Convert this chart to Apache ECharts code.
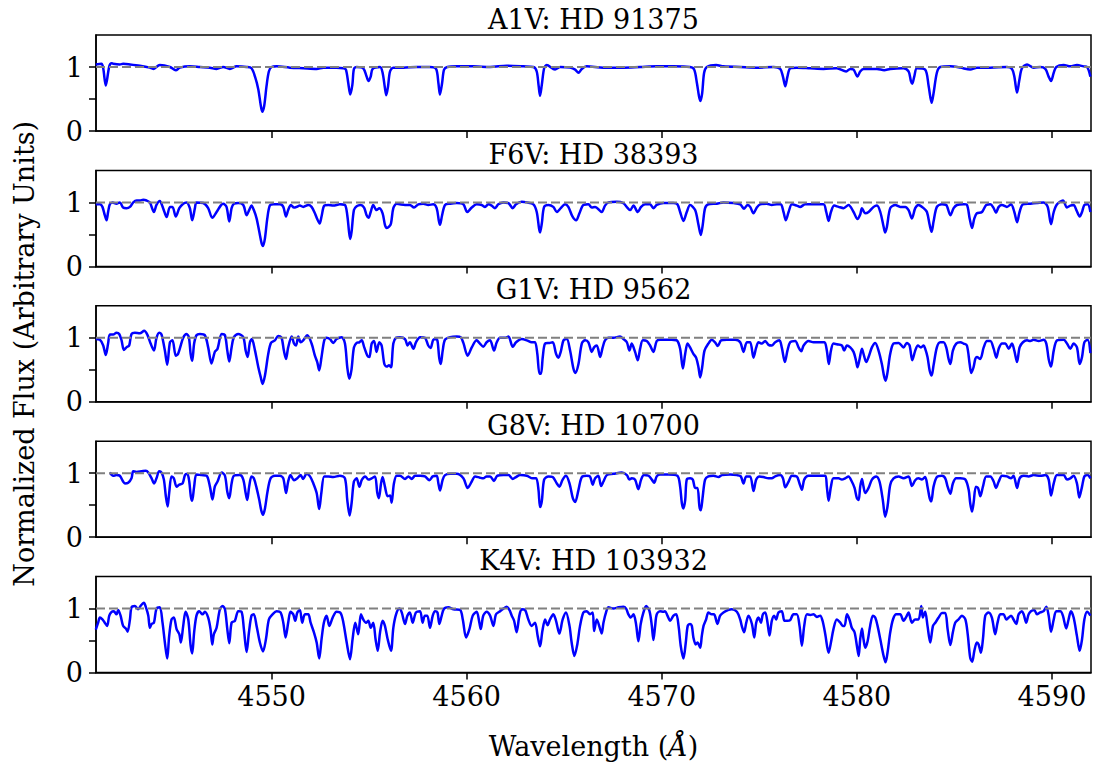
<!DOCTYPE html>
<html><head><meta charset="utf-8">
<script src="https://cdn.jsdelivr.net/npm/echarts@6/dist/echarts.min.js"></script>
<style>html,body{margin:0;padding:0;background:#fff}#c{width:1093px;height:767px}</style>
</head><body><div id="c"></div>
<script>
// ---- data ----
const titles = ['A1V: HD 91375', 'F6V: HD 38393', 'G1V: HD 9562', 'G8V: HD 10700', 'K4V: HD 103932'];
const xTicks = [4550, 4560, 4570, 4580, 4590];
const yTicks = [0, 0.5, 1];
const yTickLabels = [0, 1];
const xRange = [4541.0, 4592.0];
const continuumLevel = 1;

const a1v = [[4540.99,1.04],[4541.28,1.05],[4541.37,0.98],[4541.50,0.71],[4541.68,1.01],[4541.80,1.06],[4541.88,1.05],[4542.22,1.04],[4542.39,1.05],[4542.74,1.04],[4543.25,1.02],[4543.76,0.99],[4543.93,0.97],[4544.27,1.03],[4544.79,1.00],[4545.09,0.95],[4545.30,0.99],[4545.81,1.01],[4546.33,1.00],[4546.84,0.99],[4547.18,0.97],[4547.52,1.00],[4547.86,0.97],[4548.21,1.01],[4548.72,1.00],[4548.97,0.98],[4549.15,0.85],[4549.32,0.65],[4549.44,0.41],[4549.52,0.30],[4549.62,0.39],[4549.74,0.70],[4549.86,0.93],[4550.00,1.00],[4550.26,1.01],[4550.94,0.99],[4551.62,0.98],[4552.31,0.97],[4552.65,0.99],[4553.33,0.99],[4553.68,0.98],[4553.81,0.96],[4553.93,0.75],[4554.03,0.57],[4554.14,0.72],[4554.22,0.97],[4554.36,1.00],[4554.70,0.98],[4554.87,0.85],[4554.97,0.78],[4555.08,0.85],[4555.18,0.97],[4555.56,1.00],[4555.69,0.91],[4555.81,0.67],[4555.88,0.56],[4555.97,0.70],[4556.07,0.93],[4556.24,0.99],[4556.75,0.99],[4557.44,1.00],[4558.12,1.00],[4558.43,0.97],[4558.55,0.75],[4558.63,0.57],[4558.74,0.75],[4558.84,0.96],[4559.01,1.00],[4559.49,1.01],[4560.34,1.01],[4561.20,1.00],[4562.05,1.02],[4562.91,1.01],[4563.42,1.00],[4563.59,0.93],[4563.69,0.70],[4563.76,0.55],[4563.85,0.72],[4563.97,0.98],[4564.10,1.03],[4564.53,0.96],[4564.79,1.00],[4565.30,0.99],[4565.56,0.96],[4565.73,0.91],[4565.90,0.97],[4566.15,1.01],
[4567.01,0.99],[4568.03,0.99],[4568.89,1.00],[4569.74,1.01],[4570.60,1.01],[4571.45,1.00],[4571.66,0.96],[4571.80,0.75],[4571.91,0.54],[4571.98,0.47],[4572.07,0.59],[4572.17,0.91],[4572.31,1.00],[4572.79,1.03],[4573.16,1.01],[4574.02,1.00],[4574.87,0.99],[4575.73,1.00],[4576.07,0.97],[4576.21,0.85],[4576.33,0.70],[4576.44,0.85],[4576.58,0.98],[4576.92,0.99],[4577.61,0.98],[4578.29,0.97],[4578.97,0.98],[4579.45,0.93],[4579.66,0.97],[4579.83,0.96],[4580.03,0.85],[4580.17,0.93],[4580.34,0.97],[4581.03,0.97],[4581.40,0.95],[4581.71,0.97],[4582.39,0.98],[4582.65,0.93],[4582.77,0.78],[4582.84,0.74],[4582.94,0.85],[4583.08,0.98],[4583.50,0.96],[4583.68,0.70],[4583.83,0.44],[4583.93,0.59],[4584.10,0.91],[4584.27,1.00],[4584.79,1.01],[4585.30,0.99],[4585.81,0.96],[4586.15,0.99],[4586.84,0.99],[4587.69,1.00],[4587.95,0.97],[4588.07,0.85],[4588.21,0.60],[4588.33,0.80],[4588.46,0.98],[4588.72,1.04],[4589.06,0.99],[4589.40,1.00],[4589.66,0.97],[4589.83,0.85],[4589.95,0.78],[4590.09,0.91],[4590.22,1.00],[4590.60,1.03],[4590.94,1.01],[4591.28,1.03],[4591.62,1.01],[4591.80,1.00],[4591.97,0.85]];

const f6v = [[4540.99,0.97],[4541.20,0.97],[4541.33,0.93],[4541.45,0.80],[4541.54,0.72],[4541.62,0.85],[4541.71,0.97],[4541.85,1.00],[4542.05,0.98],[4542.22,1.00],[4542.39,0.92],[4542.56,0.91],[4542.74,0.93],[4542.91,1.00],[4543.08,1.03],[4543.25,1.03],[4543.42,1.04],[4543.59,1.03],[4543.76,1.00],[4543.97,0.85],[4544.10,0.96],[4544.27,1.02],[4544.44,0.91],[4544.62,0.77],[4544.79,0.93],[4544.92,0.93],[4545.09,0.78],[4545.27,0.91],[4545.47,0.98],[4545.64,1.00],[4545.81,0.91],[4545.93,0.72],[4546.07,0.91],[4546.15,1.00],[4546.50,0.99],[4546.75,0.91],[4546.96,0.76],[4547.18,0.85],[4547.39,0.95],[4547.52,0.98],[4547.69,0.93],[4547.83,0.70],[4547.95,0.91],[4548.07,0.98],[4548.29,0.99],[4548.55,0.96],[4548.72,0.80],[4548.85,0.88],[4548.97,0.95],[4549.09,0.88],[4549.23,0.75],[4549.37,0.54],[4549.49,0.36],[4549.56,0.32],[4549.66,0.44],[4549.78,0.75],[4549.91,0.95],[4550.09,0.97],[4550.43,0.97],[4550.60,0.93],[4550.74,0.78],[4550.85,0.88],[4550.99,0.96],[4551.15,0.92],[4551.28,0.93],[4551.45,0.95],[4551.62,0.93],[4551.88,0.96],[4552.05,0.93],[4552.22,0.83],[4552.34,0.74],[4552.46,0.67],[4552.56,0.78],[4552.70,0.95],[4552.91,0.96],[4553.16,0.95],[4553.50,0.97],[4553.76,0.96],[4553.88,0.80],[4553.97,0.54],[4554.03,0.43],[4554.10,0.54],[4554.22,0.88],[4554.36,0.94],[4554.56,0.96],[4554.74,0.92],[4554.87,0.80],[4554.97,0.76],[4555.08,0.85],[4555.21,0.96],[4555.38,0.88],[4555.52,0.91],[4555.69,0.83],[4555.81,0.65],[4555.90,0.60],[4556.02,0.62],[4556.12,0.67],[4556.24,0.91],[4556.41,0.98],[4556.58,0.97],[4556.84,0.96],[4557.09,0.96],[4557.30,0.92],[4557.52,0.97],[4557.78,0.98],[4558.03,0.96],[4558.29,0.97],[4558.46,0.91],[4558.58,0.70],[4558.63,0.65],[4558.74,0.80],[4558.89,0.96],[4559.15,0.98],[4559.49,0.99],[4559.83,0.97],[4560.03,0.85],[4560.26,0.92],[4560.51,0.97],[4560.77,0.96],[4560.94,0.93],[4561.11,0.97],[4561.28,0.95],[4561.45,0.91],[4561.62,0.97],[4561.88,1.00],[4562.14,0.99],[4562.36,0.91],[4562.53,0.97],[4562.82,1.01],[4563.08,1.00],[4563.42,0.97],[4563.59,0.85],[4563.71,0.59],[4563.76,0.53],[4563.85,0.67],[4563.97,0.93],[4564.19,0.96],[4564.44,0.93],[4564.62,0.85],[4564.82,0.91],[4565.04,0.97],[4565.21,0.93],[4565.42,0.78],[4565.61,0.72],[4565.78,0.83],[4565.98,0.96],[4566.24,0.97],[4566.41,0.92],[4566.58,0.93],
[4566.92,0.85],[4567.09,0.95],[4567.27,1.00],[4567.69,1.01],[4568.03,0.99],[4568.20,0.93],[4568.38,0.88],[4568.55,0.95],[4568.77,0.85],[4568.94,0.93],[4569.15,0.97],[4569.40,0.97],[4569.57,0.91],[4569.74,0.96],[4570.09,0.99],[4570.60,0.99],[4570.80,0.97],[4570.94,0.85],[4571.11,0.71],[4571.28,0.85],[4571.45,0.96],[4571.71,0.88],[4571.88,0.65],[4572.00,0.49],[4572.10,0.65],[4572.22,0.91],[4572.39,0.97],[4572.82,0.98],[4573.16,1.00],[4573.68,0.99],[4574.02,0.97],[4574.22,0.90],[4574.39,0.96],[4574.53,0.93],[4574.70,0.83],[4574.87,0.92],[4575.04,0.97],[4575.38,0.98],[4575.64,0.96],[4575.90,0.97],[4576.10,0.97],[4576.24,0.85],[4576.36,0.72],[4576.50,0.85],[4576.67,0.97],[4576.92,0.95],[4577.09,0.93],[4577.35,0.97],[4577.78,0.97],[4578.29,0.97],[4578.43,0.85],[4578.55,0.71],[4578.67,0.85],[4578.84,0.95],[4579.06,0.93],[4579.32,0.91],[4579.57,0.96],[4579.83,0.85],[4580.03,0.74],[4580.17,0.81],[4580.26,0.91],[4580.43,0.83],[4580.60,0.85],[4580.86,0.93],[4581.03,0.95],[4581.20,0.85],[4581.37,0.62],[4581.45,0.53],[4581.54,0.62],[4581.71,0.91],[4581.97,0.96],[4582.22,0.93],[4582.48,0.93],[4582.65,0.88],[4582.82,0.75],[4582.99,0.91],[4583.16,0.96],[4583.42,0.91],[4583.59,0.85],[4583.73,0.65],[4583.83,0.54],[4583.93,0.70],[4584.10,0.93],[4584.36,0.97],[4584.58,0.96],[4584.79,0.80],[4584.96,0.91],[4585.13,0.96],[4585.47,0.97],[4585.64,0.96],[4585.78,0.75],[4585.90,0.60],[4586.02,0.75],[4586.15,0.83],[4586.41,0.85],[4586.63,0.96],[4586.84,0.97],[4587.01,0.91],[4587.13,0.84],[4587.27,0.93],[4587.44,0.96],[4587.69,0.93],[4587.90,0.97],[4588.07,0.85],[4588.21,0.69],[4588.34,0.85],[4588.51,0.97],[4588.89,0.98],[4589.23,0.99],[4589.57,1.00],[4589.78,0.93],[4589.95,0.66],[4590.09,0.85],[4590.26,0.97],[4590.56,1.03],[4590.77,0.92],[4590.94,0.95],[4591.11,0.96],[4591.25,0.88],[4591.42,0.78],[4591.54,0.85],[4591.66,0.96],[4591.83,0.97],[4591.97,0.85]];

const g1v = [[4540.99,0.98],[4541.20,0.97],[4541.37,0.88],[4541.50,0.73],[4541.62,0.91],[4541.71,1.05],[4541.88,1.05],[4542.05,1.08],[4542.19,1.06],[4542.31,0.96],[4542.43,0.81],[4542.56,0.85],[4542.70,0.88],[4542.82,1.06],[4542.99,1.08],[4543.25,1.07],[4543.47,1.11],[4543.63,1.05],[4543.80,0.91],[4543.97,0.80],[4544.10,1.00],[4544.24,1.08],[4544.36,1.05],[4544.53,0.80],[4544.65,0.58],[4544.79,0.93],[4544.92,0.96],[4545.09,0.72],[4545.21,0.75],[4545.47,1.00],[4545.64,1.06],[4545.76,1.01],[4545.85,0.75],[4545.93,0.64],[4546.03,0.91],[4546.15,1.04],[4546.33,1.06],[4546.58,1.04],[4546.75,0.85],[4546.92,0.60],[4547.09,0.78],[4547.23,0.83],[4547.44,1.06],[4547.61,1.04],[4547.73,0.80],[4547.83,0.63],[4547.95,0.85],[4548.07,1.01],[4548.29,1.06],[4548.55,1.01],[4548.67,0.80],[4548.77,0.70],[4548.89,0.93],[4548.99,0.98],[4549.15,0.80],[4549.32,0.54],[4549.44,0.39],[4549.54,0.28],[4549.66,0.41],[4549.83,0.75],[4549.97,0.92],[4550.17,0.96],[4550.34,1.03],[4550.51,1.00],[4550.63,0.80],[4550.74,0.67],[4550.85,0.85],[4551.03,1.02],[4551.15,0.91],[4551.25,0.88],[4551.37,1.02],[4551.49,0.93],[4551.62,0.96],[4551.83,1.04],[4552.05,0.91],[4552.22,0.72],[4552.34,0.62],[4552.44,0.49],[4552.56,0.70],[4552.70,0.96],[4552.82,1.00],[4552.99,0.98],[4553.16,0.92],[4553.33,0.98],[4553.59,1.01],[4553.76,0.91],[4553.88,0.54],[4553.98,0.36],[4554.09,0.49],[4554.22,0.85],[4554.36,0.92],[4554.50,0.93],[4554.62,0.96],[4554.75,0.85],[4554.91,0.72],[4555.01,0.70],[4555.13,0.91],[4555.25,0.95],[4555.38,0.78],[4555.52,0.93],[4555.64,0.88],[4555.78,0.59],[4555.90,0.55],[4556.02,0.57],[4556.12,0.54],[4556.24,0.91],[4556.38,1.00],[4556.58,1.01],[4556.84,0.98],[4556.97,0.88],[4557.09,0.93],[4557.27,0.83],[4557.40,0.93],[4557.61,1.01],[4557.86,1.00],[4558.03,0.88],[4558.15,0.84],[4558.29,0.97],[4558.46,0.98],[4558.60,0.67],[4558.67,0.59],[4558.77,0.80],[4558.89,0.97],[4559.15,1.01],[4559.49,1.02],[4559.69,1.01],[4559.83,0.92],[4560.05,0.72],[4560.26,0.85],[4560.51,0.96],[4560.68,0.91],[4560.85,0.86],[4561.02,0.93],[4561.20,0.96],[4561.40,0.80],[4561.54,0.93],[4561.71,1.00],[4561.97,1.00],[4562.14,1.02],[4562.36,0.86],[4562.53,0.93],[4562.82,0.98],[4563.08,0.96],[4563.33,0.93],[4563.50,0.93],[4563.62,0.75],[4563.73,0.44],[4563.81,0.44],[4563.90,0.70],[4564.02,0.91],[4564.24,0.92],[4564.41,0.93],[4564.58,0.75],[4564.70,0.69],[4564.82,0.78],[4564.96,0.96],[4565.13,0.98],[4565.30,0.80],[4565.47,0.52],[4565.57,0.45],[4565.73,0.59],[4565.90,0.91],[4566.07,0.96],[4566.24,0.93],[4566.41,0.78],[4566.53,0.85],[4566.67,0.88],
[4566.84,0.70],[4566.97,0.85],[4567.09,0.96],[4567.27,1.00],[4567.52,1.00],[4567.86,1.02],[4568.03,0.98],[4568.21,0.93],[4568.34,0.80],[4568.46,0.91],[4568.63,0.78],[4568.77,0.65],[4568.89,0.83],[4569.03,0.96],[4569.23,0.95],[4569.40,0.88],[4569.57,0.78],[4569.74,0.95],[4569.91,0.97],[4570.17,0.97],[4570.51,0.97],[4570.77,0.96],[4570.94,0.83],[4571.08,0.52],[4571.20,0.75],[4571.32,0.91],[4571.45,0.85],[4571.62,0.75],[4571.76,0.69],[4571.88,0.54],[4571.97,0.38],[4572.07,0.54],[4572.19,0.80],[4572.39,0.91],[4572.56,0.97],[4572.73,0.93],[4572.87,0.87],[4573.04,0.96],[4573.33,0.97],[4573.76,0.97],[4574.02,0.93],[4574.19,0.78],[4574.36,0.93],[4574.53,0.93],[4574.70,0.69],[4574.84,0.85],[4574.96,0.93],[4575.13,0.91],[4575.30,0.95],[4575.47,0.89],[4575.64,0.88],[4575.81,0.93],[4576.03,0.96],[4576.15,0.85],[4576.31,0.62],[4576.44,0.80],[4576.58,0.93],[4576.84,0.95],[4577.01,0.85],[4577.15,0.79],[4577.27,0.88],[4577.52,0.95],[4577.78,0.93],[4578.12,0.93],[4578.34,0.93],[4578.46,0.80],[4578.56,0.59],[4578.67,0.80],[4578.80,0.91],[4578.97,0.90],[4579.23,0.88],[4579.35,0.80],[4579.49,0.88],[4579.66,0.85],[4579.83,0.78],[4579.95,0.65],[4580.03,0.54],[4580.14,0.67],[4580.26,0.83],[4580.34,0.75],[4580.48,0.62],[4580.60,0.70],[4580.77,0.85],[4580.94,0.92],[4581.11,0.80],[4581.28,0.59],[4581.40,0.39],[4581.47,0.33],[4581.57,0.46],[4581.71,0.75],[4581.88,0.91],[4582.14,0.92],[4582.39,0.85],[4582.56,0.92],[4582.70,0.88],[4582.84,0.65],[4582.99,0.80],[4583.13,0.88],[4583.28,0.85],[4583.42,0.88],[4583.50,0.83],[4583.62,0.70],[4583.73,0.49],[4583.83,0.41],[4583.93,0.57],[4584.10,0.85],[4584.27,0.93],[4584.44,0.93],[4584.58,0.85],[4584.70,0.67],[4584.79,0.59],[4584.92,0.80],[4585.09,0.91],[4585.30,0.93],[4585.47,0.91],[4585.64,0.88],[4585.78,0.59],[4585.86,0.45],[4585.98,0.54],[4586.07,0.67],[4586.15,0.70],[4586.32,0.67],[4586.50,0.85],[4586.67,0.95],[4586.84,0.95],[4587.01,0.83],[4587.15,0.69],[4587.27,0.83],[4587.44,0.91],[4587.61,0.91],[4587.78,0.83],[4587.95,0.91],[4588.07,0.80],[4588.21,0.62],[4588.34,0.85],[4588.51,0.93],[4588.72,0.96],[4588.89,0.95],[4589.06,0.97],[4589.32,0.95],[4589.57,0.97],[4589.71,0.91],[4589.83,0.67],[4589.95,0.55],[4590.09,0.80],[4590.26,0.96],[4590.60,0.97],[4590.77,0.91],[4590.94,0.83],[4591.11,0.91],[4591.28,0.85],[4591.42,0.59],[4591.54,0.70],[4591.66,0.93],[4591.83,0.97],[4591.97,0.76]];

const g8v = [[4541.71,1.01],[4541.88,0.96],[4542.05,0.97],[4542.22,0.96],[4542.39,0.87],[4542.48,0.84],[4542.65,0.85],[4542.82,0.92],[4542.91,1.03],[4543.08,1.02],[4543.33,1.03],[4543.56,1.04],[4543.68,1.01],[4543.85,0.92],[4543.98,0.84],[4544.10,0.92],[4544.24,1.03],[4544.36,1.01],[4544.48,0.90],[4544.58,0.64],[4544.67,0.48],[4544.75,0.69],[4544.87,0.95],[4544.99,0.92],[4545.13,0.79],[4545.27,0.82],[4545.44,0.84],[4545.56,0.97],[4545.68,0.99],[4545.78,0.87],[4545.86,0.64],[4545.93,0.57],[4546.03,0.79],[4546.15,0.98],[4546.41,0.97],[4546.67,0.96],[4546.84,0.79],[4546.97,0.59],[4547.09,0.79],[4547.23,0.87],[4547.44,1.01],[4547.61,0.96],[4547.73,0.71],[4547.83,0.61],[4547.95,0.84],[4548.07,0.96],[4548.38,0.97],[4548.55,0.90],[4548.67,0.69],[4548.75,0.58],[4548.85,0.79],[4548.97,0.95],[4549.09,0.92],[4549.23,0.77],[4549.37,0.58],[4549.47,0.42],[4549.56,0.35],[4549.66,0.45],[4549.79,0.71],[4549.95,0.92],[4550.17,0.96],[4550.43,0.96],[4550.60,0.92],[4550.74,0.69],[4550.85,0.87],[4550.97,0.97],[4551.15,0.89],[4551.32,0.92],[4551.49,0.97],[4551.62,0.91],[4551.79,0.99],[4551.97,0.95],[4552.14,0.84],[4552.31,0.69],[4552.44,0.44],[4552.55,0.69],[4552.70,0.95],[4552.91,0.95],[4553.16,0.94],[4553.50,0.96],[4553.76,0.92],[4553.88,0.58],[4554.00,0.34],[4554.10,0.53],[4554.22,0.87],[4554.36,0.92],[4554.50,0.79],[4554.63,0.90],[4554.80,0.95],[4554.96,0.90],[4555.13,0.92],[4555.30,0.95],[4555.42,0.69],[4555.50,0.61],[4555.61,0.84],[4555.69,0.94],[4555.81,0.79],[4555.95,0.64],[4556.07,0.65],[4556.15,0.54],[4556.27,0.84],[4556.41,0.96],[4556.58,0.96],[4556.84,0.91],[4557.01,0.95],[4557.18,0.91],[4557.35,0.96],[4557.61,0.96],[4557.86,0.95],[4558.09,0.89],[4558.26,0.95],[4558.46,0.96],[4558.55,0.84],[4558.63,0.73],[4558.77,0.90],[4558.89,0.97],[4559.15,0.99],[4559.49,0.99],[4559.83,0.92],[4560.05,0.77],[4560.26,0.87],[4560.43,0.95],[4560.68,0.93],[4560.85,0.92],[4561.02,0.95],[4561.20,0.95],[4561.40,0.88],[4561.57,0.96],[4561.88,0.97],[4562.14,0.97],[4562.36,0.91],[4562.53,0.94],[4562.74,0.97],[4563.08,0.96],[4563.38,0.92],[4563.56,0.92],[4563.68,0.74],[4563.76,0.47],[4563.85,0.56],[4563.97,0.90],[4564.19,0.95],[4564.41,0.94],[4564.62,0.84],[4564.75,0.79],[4564.92,0.90],[4565.09,0.96],[4565.27,0.84],[4565.44,0.61],[4565.56,0.55],[4565.73,0.74],[4565.90,0.94],[4566.15,0.96],[4566.32,0.95],[4566.46,0.82],[4566.58,0.92],[4566.75,0.96],
[4566.89,0.80],[4567.01,0.87],[4567.18,0.97],[4567.52,0.99],[4567.95,1.01],[4568.21,0.97],[4568.34,0.90],[4568.46,0.92],[4568.63,0.90],[4568.80,0.75],[4568.94,0.90],[4569.09,0.97],[4569.32,0.96],[4569.49,0.90],[4569.61,0.85],[4569.74,0.95],[4569.91,0.98],[4570.34,0.98],[4570.80,0.96],[4570.94,0.79],[4571.03,0.53],[4571.11,0.45],[4571.20,0.58],[4571.28,0.90],[4571.45,0.92],[4571.59,0.90],[4571.71,0.77],[4571.83,0.77],[4571.93,0.48],[4572.00,0.42],[4572.10,0.64],[4572.22,0.90],[4572.39,0.95],[4572.65,0.96],[4572.91,0.94],[4573.08,0.97],[4573.50,0.98],[4573.85,0.97],[4574.05,0.95],[4574.19,0.84],[4574.33,0.95],[4574.53,0.95],[4574.70,0.72],[4574.84,0.90],[4575.01,0.95],[4575.21,0.94],[4575.47,0.92],[4575.64,0.92],[4575.81,0.95],[4576.07,0.97],[4576.21,0.92],[4576.33,0.78],[4576.50,0.87],[4576.67,0.96],[4576.92,0.95],[4577.06,0.84],[4577.18,0.74],[4577.30,0.90],[4577.52,0.96],[4577.78,0.96],[4578.12,0.96],[4578.38,0.96],[4578.46,0.79],[4578.55,0.57],[4578.67,0.79],[4578.80,0.92],[4579.06,0.92],[4579.23,0.90],[4579.40,0.92],[4579.57,0.95],[4579.74,0.87],[4579.88,0.77],[4580.00,0.61],[4580.09,0.58],[4580.17,0.79],[4580.26,0.91],[4580.34,0.79],[4580.43,0.69],[4580.60,0.77],[4580.77,0.90],[4580.99,0.95],[4581.16,0.87],[4581.33,0.58],[4581.45,0.32],[4581.57,0.48],[4581.71,0.82],[4581.88,0.92],[4582.14,0.95],[4582.39,0.92],[4582.65,0.95],[4582.82,0.80],[4582.99,0.89],[4583.16,0.92],[4583.33,0.90],[4583.50,0.94],[4583.62,0.79],[4583.73,0.61],[4583.81,0.56],[4583.93,0.79],[4584.10,0.94],[4584.36,0.96],[4584.53,0.92],[4584.65,0.79],[4584.79,0.68],[4584.92,0.84],[4585.09,0.92],[4585.30,0.92],[4585.56,0.90],[4585.73,0.74],[4585.81,0.53],[4585.90,0.40],[4585.98,0.53],[4586.10,0.79],[4586.21,0.77],[4586.33,0.64],[4586.46,0.79],[4586.63,0.95],[4586.84,0.95],[4587.01,0.87],[4587.13,0.77],[4587.27,0.87],[4587.44,0.96],[4587.69,0.95],[4587.90,0.92],[4588.03,0.96],[4588.21,0.77],[4588.34,0.92],[4588.55,0.96],[4588.80,0.95],[4589.06,0.97],[4589.40,0.96],[4589.66,0.97],[4589.83,0.90],[4589.95,0.65],[4590.09,0.84],[4590.26,0.97],[4590.60,0.97],[4590.77,0.90],[4590.94,0.92],[4591.11,0.96],[4591.28,0.84],[4591.40,0.62],[4591.54,0.79],[4591.66,0.95],[4591.83,0.97],[4591.97,0.92]];

const k4v = [[4540.99,0.67],[4541.11,0.78],[4541.20,0.86],[4541.33,0.83],[4541.45,0.78],[4541.57,0.73],[4541.68,0.89],[4541.80,0.95],[4541.91,0.96],[4542.05,0.91],[4542.14,0.98],[4542.26,0.89],[4542.39,0.73],[4542.53,0.69],[4542.62,0.64],[4542.74,0.83],[4542.82,1.02],[4542.99,1.04],[4543.16,0.99],[4543.28,1.04],[4543.45,1.09],[4543.56,1.02],[4543.68,0.89],[4543.76,0.70],[4543.85,0.76],[4543.97,0.78],[4544.10,1.00],[4544.27,1.02],[4544.41,0.78],[4544.53,0.47],[4544.65,0.22],[4544.75,0.57],[4544.87,0.83],[4544.99,0.86],[4545.13,0.68],[4545.27,0.60],[4545.35,0.47],[4545.47,0.73],[4545.59,0.95],[4545.73,0.83],[4545.85,0.42],[4545.93,0.30],[4546.03,0.63],[4546.15,0.89],[4546.29,0.96],[4546.46,0.91],[4546.58,0.95],[4546.75,0.86],[4546.87,0.68],[4546.96,0.44],[4547.04,0.60],[4547.18,0.70],[4547.35,0.99],[4547.49,1.04],[4547.61,0.99],[4547.73,0.68],[4547.83,0.46],[4547.95,0.78],[4548.12,0.81],[4548.29,0.96],[4548.46,0.95],[4548.58,0.68],[4548.72,0.32],[4548.84,0.63],[4548.97,0.89],[4549.09,0.91],[4549.23,0.73],[4549.40,0.47],[4549.56,0.33],[4549.71,0.52],[4549.86,0.83],[4550.05,0.91],[4550.26,0.96],[4550.46,0.94],[4550.60,0.78],[4550.72,0.55],[4550.85,0.78],[4550.97,0.95],[4551.11,0.91],[4551.21,0.81],[4551.32,0.94],[4551.45,0.98],[4551.57,0.78],[4551.71,0.91],[4551.88,0.91],[4552.00,0.78],[4552.17,0.63],[4552.31,0.47],[4552.44,0.22],[4552.56,0.52],[4552.68,0.78],[4552.82,0.89],[4552.96,0.73],[4553.13,0.86],[4553.33,0.95],[4553.54,0.93],[4553.68,0.78],[4553.85,0.47],[4554.02,0.21],[4554.15,0.52],[4554.29,0.78],[4554.44,0.60],[4554.58,0.91],[4554.70,0.83],[4554.84,0.78],[4554.96,0.81],[4555.08,0.70],[4555.21,0.78],[4555.33,0.52],[4555.44,0.34],[4555.56,0.63],[4555.69,0.81],[4555.81,0.73],[4555.95,0.52],[4556.12,0.34],[4556.24,0.70],[4556.38,0.91],[4556.55,1.00],[4556.67,0.94],[4556.84,0.76],[4556.96,0.89],[4557.09,0.94],[4557.23,0.78],[4557.40,0.94],[4557.61,0.96],[4557.74,0.78],[4557.86,0.89],[4557.98,0.89],[4558.12,0.70],[4558.26,0.89],[4558.38,0.96],[4558.50,0.94],[4558.60,0.76],[4558.72,0.89],[4558.84,1.00],[4559.06,1.02],[4559.32,0.99],[4559.66,0.98],[4559.80,0.83],[4559.97,0.55],[4560.14,0.68],[4560.31,0.89],[4560.51,0.95],[4560.65,0.78],[4560.72,0.68],[4560.85,0.89],[4561.02,0.95],[4561.20,0.89],[4561.37,0.73],[4561.50,0.91],[4561.67,0.95],[4561.88,1.00],[4562.05,1.03],[4562.19,0.98],[4562.31,0.89],[4562.43,0.81],[4562.56,0.63],[4562.70,0.89],[4562.82,0.99],[4562.99,0.98],[4563.16,0.83],[4563.33,0.73],[4563.50,0.78],[4563.64,0.57],[4563.76,0.41],[4563.88,0.65],[4564.02,0.83],[4564.14,0.74],[4564.27,0.83],[4564.44,0.91],[4564.58,0.81],[4564.75,0.61],[4564.92,0.83],[4565.09,0.94],[4565.27,0.73],[4565.38,0.47],[4565.52,0.26],[4565.67,0.44],[4565.81,0.73],[4565.98,0.94],[4566.15,0.96],[4566.32,0.91],[4566.46,0.94],[4566.53,0.65],[4566.67,0.83],
[4566.84,0.68],[4566.92,0.61],[4567.01,0.78],[4567.15,0.95],[4567.27,1.02],[4567.52,1.00],[4567.78,1.02],[4568.03,1.03],[4568.17,1.00],[4568.29,0.91],[4568.41,0.86],[4568.55,0.91],[4568.68,0.76],[4568.80,0.49],[4568.92,0.76],[4569.06,0.94],[4569.20,1.04],[4569.37,0.96],[4569.49,0.73],[4569.57,0.51],[4569.66,0.73],[4569.74,0.91],[4569.91,0.96],[4570.09,0.95],[4570.17,0.96],[4570.29,0.89],[4570.43,0.81],[4570.60,0.89],[4570.74,0.91],[4570.86,0.73],[4570.97,0.42],[4571.11,0.22],[4571.23,0.47],[4571.33,0.73],[4571.45,0.76],[4571.54,0.73],[4571.62,0.55],[4571.74,0.44],[4571.83,0.47],[4571.97,0.39],[4572.05,0.57],[4572.14,0.73],[4572.27,0.83],[4572.39,0.94],[4572.56,0.91],[4572.68,0.91],[4572.85,0.76],[4572.99,0.89],[4573.16,0.94],[4573.42,0.98],[4573.59,0.99],[4573.85,0.95],[4574.02,0.83],[4574.10,0.73],[4574.22,0.63],[4574.33,0.78],[4574.44,0.89],[4574.62,0.76],[4574.74,0.55],[4574.84,0.78],[4574.96,0.86],[4575.08,0.78],[4575.18,0.91],[4575.30,0.94],[4575.42,0.78],[4575.52,0.58],[4575.64,0.81],[4575.76,0.89],[4575.86,0.83],[4575.98,0.94],[4576.15,0.96],[4576.29,0.81],[4576.44,0.81],[4576.58,0.82],[4576.75,0.91],[4576.92,0.91],[4577.06,0.73],[4577.18,0.42],[4577.30,0.73],[4577.44,0.91],[4577.61,0.90],[4577.78,0.91],[4577.95,0.87],[4578.12,0.89],[4578.24,0.81],[4578.38,0.60],[4578.55,0.31],[4578.67,0.47],[4578.80,0.68],[4578.97,0.83],[4579.15,0.78],[4579.28,0.73],[4579.37,0.73],[4579.49,0.91],[4579.62,0.83],[4579.74,0.70],[4579.88,0.63],[4580.00,0.42],[4580.09,0.26],[4580.17,0.52],[4580.26,0.69],[4580.34,0.52],[4580.43,0.39],[4580.55,0.49],[4580.68,0.73],[4580.82,0.89],[4580.94,0.86],[4581.06,0.73],[4581.20,0.52],[4581.37,0.26],[4581.47,0.16],[4581.57,0.31],[4581.71,0.63],[4581.85,0.83],[4582.02,0.91],[4582.22,0.91],[4582.39,0.81],[4582.53,0.87],[4582.65,0.94],[4582.82,0.78],[4582.99,0.83],[4583.16,0.83],[4583.30,1.04],[4583.38,0.86],[4583.50,0.95],[4583.62,0.73],[4583.76,0.47],[4583.90,0.73],[4584.02,0.78],[4584.19,0.86],[4584.36,0.93],[4584.53,0.93],[4584.65,0.68],[4584.79,0.43],[4584.92,0.63],[4585.04,0.78],[4585.21,0.83],[4585.38,0.89],[4585.56,0.83],[4585.68,0.60],[4585.81,0.23],[4585.91,0.17],[4586.02,0.34],[4586.15,0.47],[4586.24,0.44],[4586.36,0.31],[4586.46,0.52],[4586.58,0.89],[4586.75,0.94],[4586.92,0.86],[4587.09,0.60],[4587.21,0.78],[4587.35,0.91],[4587.52,0.91],[4587.66,0.83],[4587.78,0.86],[4587.90,0.89],[4588.03,0.83],[4588.17,0.76],[4588.29,0.91],[4588.46,0.96],[4588.55,0.91],[4588.68,0.78],[4588.80,0.91],[4588.92,0.96],[4589.09,0.98],[4589.23,0.91],[4589.40,0.94],[4589.57,0.96],[4589.71,1.03],[4589.83,0.89],[4589.95,0.64],[4590.09,0.83],[4590.22,0.96],[4590.43,0.96],[4590.56,0.89],[4590.73,0.69],[4590.85,0.83],[4590.97,0.96],[4591.11,0.86],[4591.28,0.57],[4591.42,0.34],[4591.54,0.52],[4591.66,0.83],[4591.80,0.95],[4591.97,0.89]];

const spectra = [a1v, f6v, g1v, g8v, k4v];

// ---- layout / style ----
const FONT = 'DejaVu Serif';
const FS = 27;
const LEFT = 96, WIDTH = 995, TOP0 = 35, STEP = 135.4, HEIGHT = 96;
const n = titles.length;

const grid = [], xAxis = [], yAxis = [], series = [], graphic = [];
for (let i = 0; i < n; i++) {
  const top = TOP0 + i * STEP;
  grid.push({left: LEFT, top: top, width: WIDTH, height: HEIGHT, show: true,
    borderColor: '#000', borderWidth: 1.5, backgroundColor: 'transparent', containLabel: false});
  xAxis.push({type: 'value', gridIndex: i, min: xRange[0], max: xRange[1],
    axisLine: {show: true, onZero: false, lineStyle: {color: '#000', width: 1.5}},
    axisTick: {show: true, customValues: xTicks, length: 7, lineStyle: {color: '#000', width: 1.5}},
    axisLabel: {show: i === n - 1, customValues: xTicks, margin: 10, color: '#000',
      fontFamily: FONT, fontSize: FS, formatter: v => String(v)},
    splitLine: {show: false}, minorTick: {show: false}});
  yAxis.push({type: 'value', gridIndex: i, min: 0, max: 1.5,
    axisLine: {show: true, onZero: false, lineStyle: {color: '#000', width: 1.5}},
    axisTick: {show: true, customValues: yTicks, length: 7, lineStyle: {color: '#000', width: 1.5}},
    axisLabel: {show: true, customValues: yTickLabels, margin: 13, color: '#000',
      fontFamily: FONT, fontSize: FS, formatter: v => String(v)},
    splitLine: {show: false}});
  series.push({type: 'line', xAxisIndex: i, yAxisIndex: i, data: spectra[i],
    showSymbol: false, symbol: 'none', smooth: 0.3, clip: true,
    lineStyle: {color: '#0000ff', width: 2.5}, z: 2, animation: false});
  series.push({type: 'line', xAxisIndex: i, yAxisIndex: i,
    data: [[xRange[0], continuumLevel], [xRange[1], continuumLevel]],
    showSymbol: false, symbol: 'none',
    lineStyle: {color: '#808080', width: 2, type: [9, 4]}, z: 3, animation: false});
  graphic.push({type: 'text', x: LEFT + WIDTH / 2, y: top - 16, z: 10,
    style: {text: titles[i], fill: '#000', font: FS + 'px "DejaVu Serif"', align: 'center', verticalAlign: 'middle'}});
}
graphic.push({type: 'text', x: 24, y: TOP0 + ((n - 1) * STEP + HEIGHT) / 2, rotation: Math.PI / 2, z: 10,
  style: {text: 'Normalized Flux (Arbitrary Units)', fill: '#000', font: FS + 'px "DejaVu Serif"', align: 'center', verticalAlign: 'middle'}});
graphic.push({type: 'text', x: LEFT + WIDTH / 2, y: 746, z: 10,
  style: {text: '{n|Wavelength (}{i|Å}{n|)}', align: 'center', verticalAlign: 'middle',
    rich: {n: {fontFamily: FONT, fontSize: FS, fill: '#000', color: '#000'},
           i: {fontFamily: FONT, fontSize: FS, fontStyle: 'italic', fill: '#000', color: '#000'}}}});

const chart = echarts.init(document.getElementById('c'), null, {renderer: 'svg'});
chart.setOption({animation: false, backgroundColor: '#fff', grid, xAxis, yAxis, series, graphic});
</script>
</body></html>
